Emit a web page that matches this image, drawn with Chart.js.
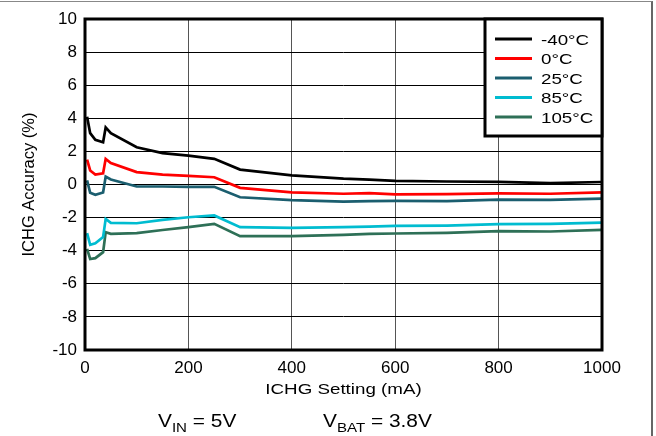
<!DOCTYPE html>
<html>
<head>
<meta charset="utf-8">
<script src="https://cdn.jsdelivr.net/npm/chart.js@4"></script>
<style>
  body { margin: 0; background: #fff; }
  #wrap { position: relative; width: 656px; height: 436px; }
  #frame { position: absolute; left: -2px; top: 1px; width: 653px; height: 440px;
           border-top: 1px solid #888; border-right: 2px solid #666; pointer-events: none; }
</style>
</head>
<body>
<div id="wrap">
  <canvas id="c" width="656" height="436"></canvas>
  <div id="frame"></div>
</div>
<script>
// ICHG setting (mA)
const setting = [4, 10, 20, 35, 40, 50, 100, 150, 200, 250, 300, 400, 500, 550, 600, 700, 800, 900, 1000];

// ICHG accuracy (%) per temperature
const accM40 = [4.1, 3.1, 2.7, 2.55, 3.45, 3.1, 2.25, 1.9, 1.75, 1.55, 0.9, 0.55, 0.35, 0.3, 0.22, 0.18, 0.16, 0.08, 0.15];
const acc0 = [1.5, 0.85, 0.6, 0.68, 1.55, 1.3, 0.75, 0.6, 0.52, 0.44, -0.2, -0.48, -0.56, -0.52, -0.6, -0.58, -0.54, -0.56, -0.48];
const acc25 = [0.25, -0.5, -0.62, -0.48, 0.48, 0.3, -0.12, -0.12, -0.14, -0.14, -0.77, -0.95, -1.03, -1.0, -0.99, -1.0, -0.91, -0.93, -0.85];
const acc85 = [-2.94, -3.64, -3.55, -3.18, -2.08, -2.32, -2.34, -2.14, -1.98, -1.87, -2.58, -2.62, -2.58, -2.54, -2.5, -2.48, -2.4, -2.38, -2.3];
const acc105 = [-3.89, -4.5, -4.45, -4.09, -2.88, -2.98, -2.94, -2.75, -2.58, -2.38, -3.12, -3.12, -3.04, -2.98, -2.96, -2.92, -2.82, -2.84, -2.74];

const labels = ['-40°C', '0°C', '25°C', '85°C', '105°C'];
const colors = ['#000000', '#ff0000', '#1b5e6f', '#00bcd0', '#2e7057'];
const series = [accM40, acc0, acc25, acc85, acc105];

const FONT = 'Liberation Sans, Arial, sans-serif';

const pts = (arr) => setting.map((x, i) => ({ x: x, y: arr[i] }));

// frame, legend, titles, conditions text
const decor = {
    id: 'decor',
    afterDatasetsDraw(chart) {
        const ctx = chart.ctx;
        const a = chart.chartArea;
        ctx.save();
        ctx.strokeStyle = '#000';
        ctx.lineWidth = 3;
        ctx.strokeRect(a.left, a.top, a.right - a.left, a.bottom - a.top);
        ctx.restore();
    },
    afterDraw(chart) {
        const ctx = chart.ctx;
        const a = chart.chartArea;
        ctx.save();

        // legend box
        const bx = 485, by = a.top, bw = a.right - 485, bh = 117;
        ctx.fillStyle = '#fff';
        ctx.fillRect(bx, by, bw, bh);
        ctx.strokeStyle = '#000';
        ctx.lineWidth = 3;
        ctx.strokeRect(bx, by, bw, bh);
        chart.data.datasets.forEach((ds, i) => {
            const y = 39 + i * 19.5;
            ctx.strokeStyle = ds.borderColor;
            ctx.lineWidth = 3;
            ctx.beginPath();
            ctx.moveTo(495, y);
            ctx.lineTo(532, y);
            ctx.stroke();
            ctx.save();
            ctx.translate(541, y + 5.5);
            ctx.scale(1.25, 1);
            ctx.fillStyle = '#000';
            ctx.font = '15px ' + FONT;
            ctx.textAlign = 'left';
            ctx.textBaseline = 'alphabetic';
            ctx.fillText(ds.label, 0, 0);
            ctx.restore();
        });

        // x title
        ctx.save();
        ctx.translate((a.left + a.right) / 2, 394);
        ctx.scale(1.25, 1);
        ctx.fillStyle = '#000';
        ctx.font = '15px ' + FONT;
        ctx.textAlign = 'center';
        ctx.fillText('ICHG Setting (mA)', 0, 0);
        ctx.restore();

        // y title
        ctx.save();
        ctx.translate(34, (a.top + a.bottom) / 2);
        ctx.rotate(-Math.PI / 2);
        ctx.fillStyle = '#000';
        ctx.font = '16.5px ' + FONT;
        ctx.textAlign = 'center';
        ctx.fillText('ICHG Accuracy (%)', 0, 0);
        ctx.restore();

        // test conditions
        const sub = (x, main, subTxt, rest) => {
            ctx.save();
            ctx.translate(x, 427);
            ctx.scale(1.16, 1);
            ctx.fillStyle = '#000';
            ctx.textAlign = 'left';
            ctx.font = '18px ' + FONT;
            ctx.fillText(main, 0, 0);
            let w = ctx.measureText(main).width;
            ctx.font = '13px ' + FONT;
            ctx.fillText(subTxt, w, 5);
            w += ctx.measureText(subTxt).width;
            ctx.font = '18px ' + FONT;
            ctx.fillText(rest, w, 0);
            ctx.restore();
        };
        sub(158, 'V', 'IN', ' = 5V');
        sub(323, 'V', 'BAT', ' = 3.8V');

        ctx.restore();
    }
};

new Chart(document.getElementById('c'), {
    type: 'line',
    data: {
        datasets: series.map((s, i) => ({
            label: labels[i],
            data: pts(s),
            borderColor: colors[i],
            backgroundColor: colors[i],
            borderWidth: 2.7,
            pointRadius: 0,
            tension: 0,
            fill: false
        }))
    },
    options: {
        responsive: false,
        animation: false,
        layout: { padding: { top: 19, right: 54, bottom: 0, left: 0 } },
        plugins: { legend: { display: false }, tooltip: { enabled: false } },
        scales: {
            x: {
                type: 'linear',
                min: 0,
                max: 1000,
                ticks: { stepSize: 200, color: '#000', font: { family: FONT, size: 17 }, padding: 8, maxRotation: 0,
                         callback: (v) => String(v) },
                grid: { color: '#555', lineWidth: 1, drawTicks: false },
                border: { display: false },
                afterFit: (scale) => { scale.height = 86; }
            },
            y: {
                min: -10,
                max: 10,
                ticks: { stepSize: 2, color: '#000', font: { family: FONT, size: 17 }, padding: 8,
                         callback: (v) => String(v) },
                grid: { color: '#000', lineWidth: 1, drawTicks: false },
                border: { display: false },
                afterFit: (scale) => { scale.width = 85; }
            }
        }
    },
    plugins: [decor]
});
</script>
</body>
</html>
